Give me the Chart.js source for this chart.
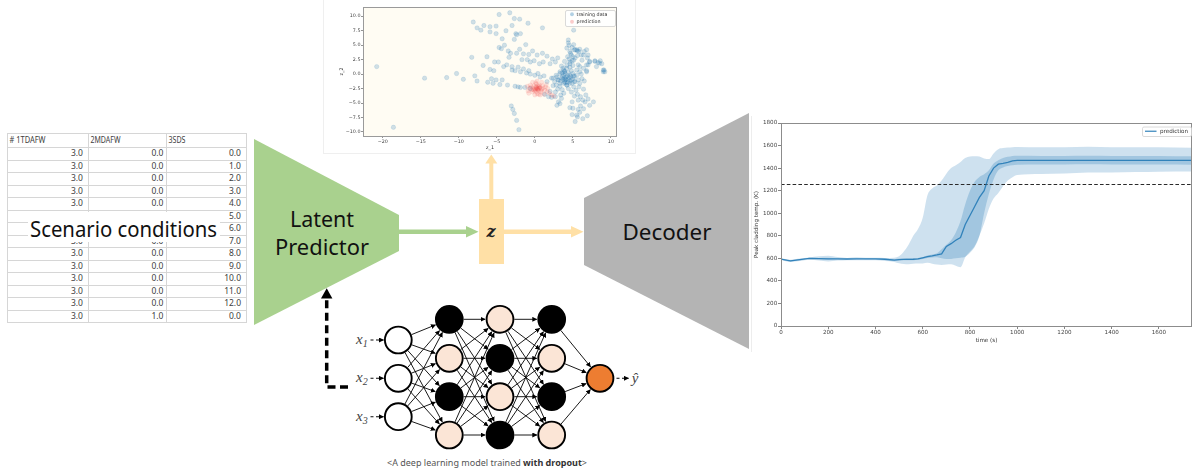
<!DOCTYPE html>
<html><head><meta charset="utf-8">
<script src="https://cdn.jsdelivr.net/npm/chart.js@4.4.1/dist/chart.umd.min.js"></script>
<style>
html,body{margin:0;padding:0;background:#fff;}
#wrap{position:relative;width:1192px;height:470px;overflow:hidden;background:#fff;}
#dia{position:absolute;left:0;top:0;}
canvas{position:absolute;}
#scatC{left:330px;top:0px;}
#lineC{left:750px;top:110px;}
</style></head><body>
<div id="wrap">
<svg id="dia" width="1192" height="470" xmlns="http://www.w3.org/2000/svg"></svg>
<canvas id="scatC" width="290" height="156"></canvas>
<canvas id="lineC" width="442" height="240"></canvas>
</div>
<script>
// ---------------- DATA ----------------
// Peak cladding temperature prediction (K) vs time (s)
const timeGrid   = [0,40,80,120,160,200,240,280,320,360,400,440,480,500,520,540,560,580,600,620,640,660,680,700,720,740,760,780,800,820,840,860,880,900,920,940,960,980,1000,1100,1200,1300,1400,1500,1600,1740];
const meanTemp   = [593,578,588,599,597,596,595,594,596,595,595,592,585,588,590,591,592,595,605,615,622,630,640,705,730,760,785,900,980,1060,1140,1200,1330,1400,1435,1442,1450,1465,1468,1468,1468,1469,1468,1468,1468,1468];
const innerUpper = [597,583,593,605,603,605,600,598,601,600,600,598,592,598,598,600,600,603,612,625,635,645,680,720,760,830,930,1080,1200,1280,1322,1345,1380,1440,1470,1490,1500,1508,1510,1508,1508,1510,1508,1508,1508,1505];
const innerLower = [588,573,583,593,591,588,590,590,591,590,590,586,578,580,582,582,584,587,595,602,608,610,600,595,595,600,605,614,650,700,800,1000,1170,1300,1380,1405,1418,1425,1430,1432,1432,1434,1432,1432,1432,1430];
const outerUpper = [600,588,598,608,618,624,612,604,610,606,606,604,606,618,660,720,800,860,960,1160,1220,1245,1290,1350,1400,1425,1455,1490,1503,1505,1502,1485,1480,1530,1568,1578,1582,1586,1587,1584,1586,1590,1585,1584,1585,1580];
const outerLower = [585,568,576,588,580,572,580,584,584,582,584,576,568,556,550,548,552,555,555,560,552,545,540,545,548,535,522,610,660,710,800,910,1040,1130,1180,1240,1290,1320,1340,1348,1352,1360,1362,1365,1368,1370];
const limitTemp  = 1255;
const timeMax    = 1740;
const timeTicks  = [0,200,400,600,800,1000,1200,1400,1600];
const tempTicks  = [0,200,400,600,800,1000,1200,1400,1600,1800];

// Latent space scatter (z_1, z_2)
const trainZ1 = [-20.8,-18.6,-14.5,-11.6,-10.3,-9.4,-8.3,-7.9,-7.6,-8.1,-7.1,-6.7,-5.9,-5.9,-5.1,-5.1,-4.7,-3.3,-2.7,-2.0,-0.9,-2.5,-2.4,-1.9,-3.8,-2.7,-4.3,-4.7,-4.4,-6.3,-5.3,-4.8,-5.4,-5.9,-5.7,-5.1,-5.5,-4.6,-4.3,-4.1,-3.7,-3.0,-3.2,-2.4,-1.5,-0.3,0.3,1.0,1.6,1.0,-3.4,-1.7,-1.0,-0.6,-0.1,0.6,1.1,2.0,2.7,-3.0,-2.6,-1.9,-1.1,-0.6,0.0,0.7,1.6,-2.6,-1.9,-1.3,-0.6,1.8,2.2,2.7,-3.1,-2.9,-2.7,-2.4,-2.1,
 -2.2,-1.5,-0.8,0.4,1.2,2.2,-3.6,-2.2,1.3,2.0,-6.2,-6.8,-4.0,-3.5,-2.0,-0.8,2.3,3.0,-1.2,-3.0,-7.6,
 4.4,4.4,4.2,4.6,5.2,5.5,5.8,6.1,5.0,4.6,4.2,3.7,3.3,2.8,2.4,3.0,3.5,3.9,4.4,4.8,5.2,3.3,2.8,4.2,4.6,5.0,5.5,5.9,5.0,4.6,3.9,5.2,5.7,5.9,7.2,7.9,8.5,9.0,9.0,6.8,7.0,4.5,4.7,5.3,5.6,6.4,6.2,5.7,5.1,4.6,3.8,3.3,2.9,3.1,4.0,5.3,3.8,3.3,4.2,4.6,5.1,5.5,5.9,6.4,3.8,3.5,3.1,2.9,3.3,4.8,5.1,5.4,4.9,5.0,5.7,6.0,6.3,6.6,6.0,5.7,5.5,5.6,5.3,6.3,4.6,7.7,7.2,6.8,7.2,7.9,8.6,8.8,9.1,9.2,8.1,6.8,5.1,3.9,6.8,7.0,
 3.6,3.8,4.1,4.3,4.5,4.7,3.9,4.3,4.9,3.4,3.6,4.0,4.4,4.8,4.2,4.5,4.9,5.3,5.6,4.8,4.9,5.1,4.3,3.9,3.5,6.2,6.5,6.1,2.6,2.4,3.0,3.6,4.4,5.6,5.2,6.7,7.0,6.4,5.9,4.9,6.9,6.4,5.8,2.7,3.4,6.9,8.3,6.5,5.9,4.1,4.6,3.7,5.0,4.0];
const trainZ2 = [1.3,-9.2,-0.7,-0.6,0.1,-0.9,2.9,-0.3,-1.2,9.0,7.6,8.4,8.2,7.3,8.3,7.0,10.3,10.6,9.6,9.5,8.8,7.0,6.8,7.0,7.5,6.0,6.1,4.6,4.4,3.0,2.1,2.1,0.6,0.8,-0.8,-1.0,-1.6,-1.8,-1.0,1.3,1.6,1.3,3.6,3.6,3.5,4.0,3.3,3.6,3.1,8.0,2.9,2.5,2.5,2.1,2.3,1.8,2.1,1.8,2.1,0.7,0.6,0.4,0.2,0.0,-0.2,-0.5,-1.3,-2.1,-2.3,-2.3,-2.5,-3.9,-4.0,-3.9,-5.5,-6.1,-6.8,-8.0,-9.6,
 1.2,0.9,0.6,0.1,-0.3,-0.7,-1.9,-2.2,-3.5,-3.0,-1.4,1.5,5.0,4.0,4.3,3.4,2.6,2.8,5.1,8.4,8.0,
 5.9,5.4,4.5,3.9,4.2,4.2,3.9,3.3,3.0,2.1,1.5,1.0,0.4,-0.2,-0.7,-1.0,-0.7,-0.7,-1.0,-1.0,-1.3,-1.6,-1.9,-1.9,-0.2,0.1,0.7,1.3,1.5,1.2,0.4,-0.4,-1.0,-1.6,2.2,2.3,1.9,0.7,0.4,0.4,1.6,5.0,3.6,4.2,4.0,3.3,2.4,1.6,2.4,1.8,0.7,0.1,-0.5,-1.0,-1.0,-1.3,-1.6,-2.1,-1.9,-1.6,-0.3,-0.2,0.4,1.0,-3.3,-4.2,-4.8,-5.4,-5.1,-3.1,-2.2,-2.8,-4.8,-5.9,-4.5,-3.9,-4.5,-4.8,-5.5,-6.1,-7.1,-7.4,-8.2,-7.7,-5.8,-4.8,-5.4,1.6,2.1,2.2,2.3,1.8,0.7,0.4,1.3,0.6,7.6,0.5,4.2,3.3,
 -0.4,-0.2,-0.5,-0.3,-0.6,-0.4,-1.3,-1.4,-1.6,-1.2,0.2,0.1,0.3,0.6,1.0,2.6,2.3,2.8,3.2,3.3,4.6,5.1,3.0,2.2,1.4,-0.8,-1.2,0.0,-1.3,-2.0,-2.6,-2.7,-2.5,-3.5,-3.8,-3.6,-4.3,-6.0,-6.6,-7.0,-7.2,-2.6,-2.2,-3.1,-3.6,2.8,2.0,3.9,4.3,-0.9,-1.2,-0.9,-0.8,-1.5];
const predZ1 = [0.3,0.1,0.5,-0.2,0.7,0.2,0.4,-0.4,0.9,0.0,0.6,-0.1,0.8,0.3,-0.5,1.1,0.2,-0.3,1.0,0.5,-0.7,1.3,0.1,0.7,-0.6,1.4,0.4,0.0,0.6,0.2,0.35,0.15,0.55,-0.15,0.85,1.6,1.9,2.2,1.7,-0.9,-1.0,0.3,0.9,-0.3,1.2,2.5,0.0,1.5,-0.8,0.45];
const predZ2 = [-2.5,-2.2,-2.8,-2.4,-2.3,-3.0,-2.0,-2.7,-2.6,-2.9,-1.9,-2.0,-3.1,-3.4,-2.2,-2.4,-1.7,-3.1,-2.0,-3.5,-2.5,-2.8,-1.5,-3.6,-1.9,-2.2,-2.6,-2.6,-2.4,-2.3,-2.7,-2.55,-2.15,-2.75,-2.85,-3.0,-3.3,-3.6,-2.5,-2.9,-2.1,-1.2,-1.4,-1.4,-3.5,-3.8,-3.6,-1.8,-3.3,-2.45];
const z1Ticks = [-20,-15,-10,-5,0,5,10];
const z2Ticks = [-10,-7.5,-5,-2.5,0,2.5,5,7.5,10];

// Scenario table
const tableHeaders = ['# 1TDAFW','2MDAFW','3SDS'];
const col1TDAFW = ['3.0','3.0','3.0','3.0','3.0','3.0','3.0','3.0','3.0','3.0','3.0','3.0','3.0','3.0'];
const col2MDAFW = ['0.0','0.0','0.0','0.0','0.0','0.0','0.0','0.0','0.0','0.0','0.0','0.0','0.0','1.0'];
const col3SDS   = ['0.0','1.0','2.0','3.0','4.0','5.0','6.0','7.0','8.0','9.0','10.0','11.0','12.0','0.0'];

// ---------------- DIAGRAM (SVG) ----------------
const NS='http://www.w3.org/2000/svg';
const svg=document.getElementById('dia');
function el(tag, attrs, parent, text){
  const e=document.createElementNS(NS,tag);
  for(const k in attrs) e.setAttribute(k, attrs[k]);
  if(text!=null) e.textContent=text;
  (parent||svg).appendChild(e); return e;
}
const defs=el('defs',{});
const mk=el('marker',{id:'ah',viewBox:'0 0 10 10',refX:'9',refY:'5',markerWidth:'5',markerHeight:'5',orient:'auto',markerUnits:'userSpaceOnUse'},defs);
el('path',{d:'M0,0 L10,5 L0,10 z',fill:'#000'},mk);

// faint figure frames
el('rect',{x:323.5,y:-1,width:312,height:154.5,fill:'none',stroke:'#efefef','stroke-width':1});
el('line',{x1:751.5,y1:116,x2:751.5,y2:352,stroke:'#ededed','stroke-width':1});

// table
const tX=[7,88,166,246];
const tTop=133, hdrH=14, rowH=12.5;
const nRows=col1TDAFW.length;
const tBottom=tTop+hdrH+nRows*rowH;
el('rect',{x:tX[0]+0.5,y:tTop+0.5,width:tX[3]-tX[0],height:tBottom-tTop,fill:'#fff',stroke:'#d6d6d6','stroke-width':1});
for(let i=0;i<=nRows;i++){
  const y=Math.round(tTop+hdrH+i*rowH)+0.5;
  el('line',{x1:tX[0],y1:y,x2:tX[3]+1,y2:y,stroke:'#d6d6d6','stroke-width':1});
}
for(let j=1;j<3;j++) el('line',{x1:tX[j]+0.5,y1:tTop,x2:tX[j]+0.5,y2:tBottom+1,stroke:'#d6d6d6','stroke-width':1});
const hdrW=[36,30,17];
tableHeaders.forEach((h,j)=>{
  el('text',{x:tX[j]+2.5,y:tTop+hdrH/2+3.2,'font-family':'Noto Sans','font-size':8.5,fill:'#404040',textLength:hdrW[j],lengthAdjust:'spacingAndGlyphs'},null,h);
});
const rightPad=[83,163.5,241];
[col1TDAFW,col2MDAFW,col3SDS].forEach((col,j)=>{
  col.forEach((v,i)=>{
    el('text',{x:rightPad[j],y:tTop+hdrH+(i+0.5)*rowH+3.1,'font-family':'Noto Sans','font-size':8.5,fill:'#404040','text-anchor':'end'},null,v);
  });
});
// Scenario conditions label
el('rect',{x:28,y:212,width:192,height:30,fill:'#fff'});
el('text',{x:123.5,y:236.5,'font-family':'Noto Sans','font-size':21,fill:'#111','text-anchor':'middle',textLength:187,lengthAdjust:'spacingAndGlyphs'},null,'Scenario conditions');

// Latent predictor
el('polygon',{points:'254,139 399,215 399,251 254,325',fill:'#a9d18e'});
el('text',{x:322,y:226.7,'font-family':'Noto Sans','font-size':22,fill:'#111','text-anchor':'middle',textLength:64,lengthAdjust:'spacingAndGlyphs'},null,'Latent');
el('text',{x:322,y:255,'font-family':'Noto Sans','font-size':22,fill:'#111','text-anchor':'middle',textLength:94,lengthAdjust:'spacingAndGlyphs'},null,'Predictor');
el('line',{x1:399,y1:231.7,x2:467,y2:231.7,stroke:'#a9d18e','stroke-width':4.5});
el('polygon',{points:'466,226 478.5,231.7 466,237.4',fill:'#a9d18e'});

// z box + arrows
const zc='#ffe0a6';
el('rect',{x:479,y:199,width:25,height:65,fill:zc});
el('line',{x1:491.3,y1:199,x2:491.3,y2:162,stroke:zc,'stroke-width':4});
el('polygon',{points:'485.3,163.5 491.3,154.5 497.3,163.5',fill:zc});
el('line',{x1:504,y1:231.7,x2:572,y2:231.7,stroke:zc,'stroke-width':4.5});
el('polygon',{points:'571,226 583.5,231.7 571,237.4',fill:zc});
el('text',{x:491,y:236.5,'font-family':'DejaVu Serif','font-style':'italic','font-weight':'bold','font-size':16,fill:'#222','text-anchor':'middle'},null,'z');

// Decoder
el('polygon',{points:'584,198 749,113 749,349 584,265',fill:'#b4b4b4'});
el('text',{x:667,y:240,'font-family':'Noto Sans','font-size':22,fill:'#111','text-anchor':'middle',textLength:89,lengthAdjust:'spacingAndGlyphs'},null,'Decoder');

// dashed feedback arrow
el('path',{d:'M348,387 L326.7,387 L326.7,298',fill:'none',stroke:'#000','stroke-width':3.5,'stroke-dasharray':'8 4.5'});
el('polygon',{points:'321,298.5 326.7,288.3 332.4,298.5',fill:'#000'});

// neural network
const lx=[398.3,449.3,500,551.7,600];
const inY=[340,378.3,416.7];
const hidY=[319.3,358.3,396.7,435];
const layers=[inY,hidY,hidY,hidY,[378.3]];
const peach='#fbe5d6';
const fills=[['#fff','#fff','#fff'],['#000',peach,'#000',peach],[peach,'#000',peach,'#000'],['#000',peach,'#000',peach],['#ed7d31']];
const R=14.3;
for(let L=0;L<4;L++){
  layers[L].forEach(y1=>{
    layers[L+1].forEach(y2=>{
      const x1=lx[L],x2=lx[L+1];
      const dx=x2-x1,dy=y2-y1,d=Math.hypot(dx,dy);
      const ux=dx/d,uy=dy/d;
      el('line',{x1:x1+ux*R,y1:y1+uy*R,x2:x2-ux*(R+0.6),y2:y2-uy*(R+0.6),stroke:'#000','stroke-width':0.9,'marker-end':'url(#ah)'});
    });
  });
}
layers.forEach((ys,L)=>ys.forEach((y,i)=>{
  el('circle',{cx:lx[L],cy:y,r:13.4,fill:fills[L][i],stroke:'#000','stroke-width':1.9});
}));
// input labels and arrows
inY.forEach((y,i)=>{
  const t=el('text',{x:356,y:y+4,'font-family':'Liberation Serif','font-style':'italic','font-size':15,fill:'#444'});
  el('tspan',{},t,'x');
  el('tspan',{'font-size':10,dy:3},t,String(i+1));
  el('line',{x1:370.5,y1:y,x2:373.5,y2:y,stroke:'#333','stroke-width':1.2});
  el('line',{x1:376,y1:y,x2:383.5,y2:y,stroke:'#333','stroke-width':1.2,'marker-end':'url(#ah)'});
});
el('line',{x1:616.5,y1:378.3,x2:619.5,y2:378.3,stroke:'#333','stroke-width':1.2});
el('line',{x1:622,y1:378.3,x2:628.5,y2:378.3,stroke:'#333','stroke-width':1.2,'marker-end':'url(#ah)'});
el('text',{x:635,y:383,'font-family':'Liberation Serif','font-style':'italic','font-size':15,fill:'#444','text-anchor':'middle'},null,'\u0177');
// caption
const cap=el('text',{x:487,y:465.5,'font-family':'Noto Sans','font-size':9,fill:'#555','text-anchor':'middle'});
el('tspan',{},cap,'<A deep learning model trained ');
el('tspan',{'font-weight':'bold',fill:'#333'},cap,'with dropout');
el('tspan',{},cap,'>');

// ---------------- CHARTS ----------------
Chart.defaults.font.family='DejaVu Sans';
const tickCol='#444';
const mpl = v => String(v).replace('-', '\u2212');

function pts(ys){ return timeGrid.map((t,i)=>({x:t,y:ys[i]})); }

const spinePlugin = {
  id:'spines',
  beforeDraw(c, args, opts){
    if(opts.bg){ const a=c.chartArea; c.ctx.save(); c.ctx.fillStyle=opts.bg; c.ctx.fillRect(a.left,a.top,a.right-a.left,a.bottom-a.top); c.ctx.restore(); }
  },
  afterDraw(c, args, opts){
    const a=c.chartArea, ctx=c.ctx;
    ctx.save();
    ctx.strokeStyle=opts.color||'#888'; ctx.lineWidth=1;
    ctx.strokeRect(Math.round(a.left)+0.5, Math.round(a.top)+0.5, Math.round(a.right-a.left)-1, Math.round(a.bottom-a.top));
    const L=opts.legend;
    if(L){
      const bx=a.right-L.rightGap-L.w, by=a.top+L.topGap;
      ctx.fillStyle='rgba(255,255,255,0.85)';
      ctx.strokeStyle='#d0d0d0'; ctx.lineWidth=0.8;
      ctx.beginPath(); ctx.roundRect(bx+0.5,by+0.5,L.w,L.h,1.5); ctx.fill(); ctx.stroke();
      ctx.font=L.font+'px DejaVu Sans'; ctx.textBaseline='middle'; ctx.fillStyle='#333';
      L.items.forEach((it,k)=>{
        const cy=by+L.pad+k*L.lineH+L.lineH/2;
        if(it.type==='line'){
          ctx.strokeStyle=it.color; ctx.lineWidth=1.3;
          ctx.beginPath(); ctx.moveTo(bx+3,cy); ctx.lineTo(bx+14.5,cy); ctx.stroke();
          ctx.fillStyle='#333'; ctx.fillText(it.text,bx+18,cy+0.3);
        } else {
          ctx.fillStyle=it.color; ctx.beginPath(); ctx.arc(bx+7,cy,1.9,0,Math.PI*2); ctx.fill();
          ctx.fillStyle='#333'; ctx.fillText(it.text,bx+11.5,cy+0.3);
        }
      });
    }
    ctx.restore();
  }
};

new Chart(document.getElementById('lineC'), {
  type:'line',
  data:{datasets:[
    {label:'prediction', data:pts(meanTemp), borderColor:'rgba(31,119,180,0.85)', borderWidth:1.3, pointRadius:0, fill:false, tension:0, order:0},
    {label:'limit', data:[{x:0,y:limitTemp},{x:timeMax,y:limitTemp}], borderColor:'#2a2a2a', borderWidth:1.1, borderDash:[3.6,2.2], pointRadius:0, fill:false, order:1},
    {label:'inner upper', data:pts(innerUpper), borderWidth:0, borderColor:'rgba(0,0,0,0)', pointRadius:0, fill:false, cubicInterpolationMode:'monotone', order:2},
    {label:'inner lower', data:pts(innerLower), borderWidth:0, borderColor:'rgba(0,0,0,0)', pointRadius:0, fill:'-1', backgroundColor:'rgba(31,119,180,0.25)', cubicInterpolationMode:'monotone', order:2},
    {label:'outer upper', data:pts(outerUpper), borderWidth:0, borderColor:'rgba(0,0,0,0)', pointRadius:0, fill:false, cubicInterpolationMode:'monotone', order:3},
    {label:'outer lower', data:pts(outerLower), borderWidth:0, borderColor:'rgba(0,0,0,0)', pointRadius:0, fill:'-1', backgroundColor:'rgba(31,119,180,0.22)', cubicInterpolationMode:'monotone', order:3}
  ]},
  options:{
    responsive:false, animation:false, devicePixelRatio:1,
    layout:{padding:{left:3,top:13,right:0,bottom:6}, autoPadding:false},
    plugins:{legend:{display:false}, tooltip:{enabled:false},
      spines:{color:'#8c8c8c', legend:{w:49,h:9.5,rightGap:1,topGap:3.5,pad:0.5,lineH:8.5,font:5.6,items:[{type:'line',color:'rgba(31,119,180,0.85)',text:'prediction'}]}}},
    scales:{
      x:{type:'linear', min:0, max:timeMax,
        afterBuildTicks:s=>{s.ticks=timeTicks.map(v=>({value:v}));},
        afterFit:s=>{s.height=18;},
        ticks:{font:{size:5.6}, color:tickCol, padding:0.5, maxRotation:0, autoSkip:false, callback:v=>String(v)},
        grid:{drawOnChartArea:false, drawTicks:true, tickLength:3, color:'#666', lineWidth:0.8},
        border:{display:false},
        title:{display:true, text:'time (s)', font:{size:5.6}, color:'#333', padding:{top:0,bottom:0}}},
      y:{min:0, max:1800,
        afterBuildTicks:s=>{s.ticks=tempTicks.map(v=>({value:v}));},
        afterFit:s=>{s.width=28;},
        ticks:{font:{size:5.6}, color:tickCol, padding:0.8, autoSkip:false, callback:v=>String(v)},
        grid:{drawOnChartArea:false, drawTicks:true, tickLength:3, color:'#666', lineWidth:0.8},
        border:{display:false},
        title:{display:true, text:'Peak cladding temp. (K)', font:{size:5.6}, color:'#333', padding:{top:0,bottom:0}}}
    }
  },
  plugins:[spinePlugin]
});

new Chart(document.getElementById('scatC'), {
  type:'scatter',
  data:{datasets:[
    {label:'training data', data:trainZ1.map((x,i)=>({x, y:trainZ2[i]})), pointRadius:2.2, pointBackgroundColor:'rgba(31,119,180,0.21)', pointBorderColor:'rgba(31,119,180,0.24)', pointBorderWidth:0.5, order:1},
    {label:'prediction', data:predZ1.map((x,i)=>({x, y:predZ2[i]})), pointRadius:2.2, pointBackgroundColor:'rgba(240,50,50,0.13)', pointBorderColor:'rgba(240,50,50,0.1)', pointBorderWidth:0.5, order:0}
  ]},
  options:{
    responsive:false, animation:false, devicePixelRatio:1,
    layout:{padding:{left:8.8,top:7,right:3,bottom:5.4}, autoPadding:false},
    plugins:{legend:{display:false}, tooltip:{enabled:false},
      spines:{color:'#9a9a9a', bg:'#fffcf3', legend:{w:50,h:16,rightGap:2,topGap:3,pad:0.5,lineH:7.5,font:4.8,items:[{type:'dot',color:'rgba(31,119,180,0.35)',text:'training data'},{type:'dot',color:'rgba(240,50,50,0.25)',text:'prediction'}]}}},
    scales:{
      x:{type:'linear', min:-22.6, max:10.8,
        afterBuildTicks:s=>{s.ticks=z1Ticks.map(v=>({value:v}));},
        afterFit:s=>{s.height=14.6;},
        ticks:{font:{size:4.8}, color:tickCol, padding:0.5, maxRotation:0, autoSkip:false, callback:v=>mpl(v)},
        grid:{drawOnChartArea:false, drawTicks:true, tickLength:2, color:'#666', lineWidth:0.7},
        border:{display:false},
        title:{display:true, text:'z_1', font:{size:4.8}, color:'#333', padding:{top:0,bottom:0}}},
      y:{type:'linear', min:-10.7, max:11.6,
        afterBuildTicks:s=>{s.ticks=z2Ticks.map(v=>({value:v}));},
        afterFit:s=>{s.width=24.2;},
        ticks:{font:{size:4.8}, color:tickCol, padding:0.5, autoSkip:false, callback:v=>mpl(Number(v).toFixed(1))},
        grid:{drawOnChartArea:false, drawTicks:true, tickLength:2, color:'#666', lineWidth:0.7},
        border:{display:false},
        title:{display:true, text:'z_2', font:{size:4.8}, color:'#333', padding:{top:0,bottom:0}}}
    }
  },
  plugins:[spinePlugin]
});
</script>
</body></html>
